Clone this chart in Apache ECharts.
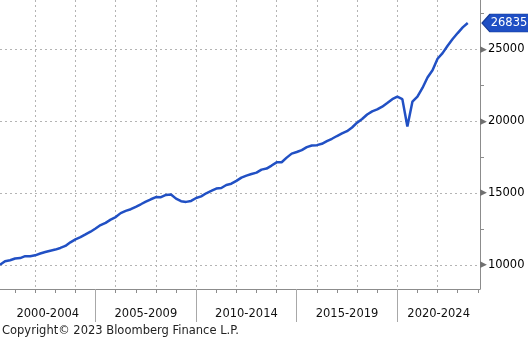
<!DOCTYPE html>
<html>
<head>
<meta charset="utf-8" />
<title>GDP</title>
<script src="https://cdn.jsdelivr.net/npm/echarts@6/dist/echarts.min.js"></script>
<style>
html, body { margin: 0; padding: 0; background: #fff; }
#main { width: 528px; height: 340px; }
</style>
</head>
<body>
<div id="main"></div>
<script type="text/javascript">
// quarterly values, one row per year (Q1..Q4)
var years = [2000, 2001, 2002, 2003, 2004, 2005, 2006, 2007, 2008, 2009, 2010, 2011,
             2012, 2013, 2014, 2015, 2016, 2017, 2018, 2019, 2020, 2021, 2022, 2023];
var gdp = [
    [10002, 10248, 10318, 10436],
    [10470, 10599, 10598, 10661],
    [10784, 10888, 10984, 11061],
    [11174, 11313, 11567, 11772],
    [11923, 12113, 12305, 12527],
    [12767, 12923, 13143, 13324],
    [13599, 13753, 13870, 14040],
    [14216, 14402, 14564, 14715],
    [14707, 14866, 14899, 14608],
    [14431, 14381, 14449, 14651],
    [14765, 14980, 15142, 15310],
    [15351, 15558, 15648, 15842],
    [16069, 16207, 16320, 16420],
    [16629, 16700, 16911, 17133],
    [17144, 17463, 17743, 17853],
    [17991, 18194, 18307, 18332],
    [18425, 18612, 18776, 18968],
    [19148, 19305, 19562, 19895],
    [20156, 20470, 20687, 20819],
    [21013, 21272, 21532, 21707],
    [21538, 19637, 21362, 21705],
    [22314, 23047, 23550, 24349],
    [24741, 25249, 25724, 26138],
    [26530, 26835]
];
var lastValue = 26835;
var yLabels = [10000, 15000, 20000, 25000];
var yMinor = [12500, 17500, 22500, 27500];
var yearTicks = [2001, 2002, 2003, 2004, 2005, 2006, 2007, 2008, 2009, 2010, 2011, 2012,
                 2013, 2014, 2015, 2016, 2017, 2018, 2019, 2020, 2021, 2022, 2023, 2024];
var gridYears = [2002, 2004, 2006, 2008, 2010, 2012, 2014, 2016, 2018, 2020, 2022];
var periodStarts = [2000, 2005, 2010, 2015, 2020];
var periodLabels = ['2000-2004', '2005-2009', '2010-2014', '2015-2019', '2020-2024'];
var separators = [2005, 2010, 2015, 2020];

var xMin = 2000.25, xMax = 2024.11;
var yMin = 8315, yMax = 28440;

var points = [];
for (var i = 0; i < years.length; i++) {
    for (var q = 0; q < gdp[i].length; q++) {
        points.push([years[i] + (q + 1) * 0.25, gdp[i][q]]);
    }
}

// label sits in the middle of the visible part of each 5-year block
var periodCenters = periodStarts.map(function (s) {
    return (Math.max(s, xMin) + Math.min(s + 5, xMax)) / 2;
});

var font = 'DejaVu Sans';
var axisGray = '#8c8c8c';

var myChart = echarts.init(document.getElementById('main'));
var option = {
    animation: false,
    backgroundColor: '#fff',
    grid: { left: 0, top: 0, right: 48, bottom: 51, containLabel: false, outerBoundsMode: 'none' },
    xAxis: [
        {
            type: 'value', position: 'bottom', min: xMin, max: xMax,
            axisLine: { show: true, lineStyle: { color: axisGray, width: 1 } },
            axisTick: { show: true, customValues: yearTicks, length: 4, lineStyle: { color: axisGray } },
            axisLabel: { show: false },
            splitLine: { show: false }
        },
        {
            type: 'value', position: 'bottom', min: xMin, max: xMax,
            axisLine: { show: false },
            axisTick: { show: false, customValues: gridYears },
            axisLabel: { show: false },
            splitLine: { show: true, lineStyle: { color: '#b4b4b4', type: [2, 3], width: 1 } }
        },
        {
            type: 'value', position: 'bottom', min: xMin, max: xMax,
            axisLine: { show: false },
            axisTick: { show: true, customValues: separators, length: 33, lineStyle: { color: '#a8a8a8' } },
            axisLabel: {
                show: true,
                customValues: periodCenters,
                margin: 19,
                color: '#111',
                fontFamily: font,
                fontSize: 11.5,
                formatter: function (v) {
                    for (var k = 0; k < periodCenters.length; k++) {
                        if (Math.abs(periodCenters[k] - v) < 0.01) return periodLabels[k];
                    }
                    return '';
                }
            },
            splitLine: { show: false }
        }
    ],
    yAxis: [
        {
            type: 'value', position: 'right', min: yMin, max: yMax,
            axisLine: { show: true, lineStyle: { color: axisGray, width: 1 } },
            axisTick: { show: false, customValues: yLabels },
            axisLabel: {
                show: true,
                customValues: yLabels,
                margin: 0,
                formatter: function (v) { return '{a|\u25B6}{b|' + v + '}'; },
                rich: {
                    a: { color: '#707070', fontSize: 9, fontFamily: font, padding: [0, 1, 0, 0] },
                    b: { color: '#000', fontSize: 11.5, fontFamily: font }
                }
            },
            splitLine: { show: true, lineStyle: { color: '#b4b4b4', type: [2, 3], width: 1 } }
        },
        {
            type: 'value', position: 'right', min: yMin, max: yMax,
            axisLine: { show: false },
            axisTick: { show: true, customValues: yMinor, length: 4, lineStyle: { color: axisGray } },
            axisLabel: { show: false },
            splitLine: { show: false }
        }
    ],
    series: [
        {
            type: 'line',
            data: points,
            showSymbol: false,
            symbol: 'none',
            lineStyle: { color: '#2150c4', width: 2.5 },
            markPoint: {
                silent: true,
                symbol: 'path://M0,9 L8,0 L48,0 L48,18 L8,18 Z',
                symbolSize: [48, 18],
                symbolOffset: [26, 0],
                itemStyle: { color: '#1f4fc4', borderColor: '#173c99', borderWidth: 1 },
                label: {
                    show: true,
                    position: 'inside',
                    offset: [3, 0],
                    color: '#fff',
                    fontFamily: font,
                    fontSize: 11.5,
                    formatter: String(lastValue)
                },
                data: [{ coord: [xMax, lastValue], value: lastValue }]
            }
        }
    ],
    graphic: [
        {
            type: 'text', left: 2, top: 325,
            style: { text: 'Copyright\u00A9 2023 Bloomberg Finance L.P.', font: '11.5px "DejaVu Sans"', fill: '#222' }
        }
    ]
};
myChart.setOption(option);
</script>
</body>
</html>
